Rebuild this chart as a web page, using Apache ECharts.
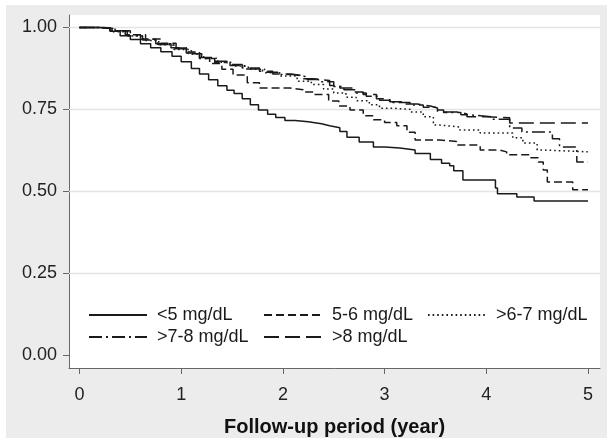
<!DOCTYPE html>
<html>
<head>
<meta charset="utf-8">
<script src="https://cdn.jsdelivr.net/npm/echarts@6/dist/echarts.min.js"></script>
<style>
  html, body { margin: 0; padding: 0; background: #ffffff; }
  #bg { position: absolute; left: 6px; top: 5px; width: 601px; height: 433px; background: #ececec; }
  #chart { position: absolute; left: 0; top: 0; width: 607px; height: 438px; }
</style>
</head>
<body>
<div id="bg"></div>
<div id="chart"></div>
<script>
// ---- Data ----
const seriesNames = ['<5 mg/dL', '5-6 mg/dL', '>6-7 mg/dL', '>7-8 mg/dL', '>8 mg/dL'];

const tLt5 = [0, 0.2, 0.3, 0.4, 0.5, 0.6, 0.7, 0.8, 0.91, 1.0, 1.1, 1.18, 1.27, 1.36, 1.45, 1.52, 1.6, 1.68, 1.76, 1.85, 1.93, 2.02, 2.12, 2.25, 2.38, 2.46, 2.56, 2.63, 2.75, 2.89, 3.0, 3.15, 3.3, 3.45, 3.56, 3.64, 3.68, 3.77, 4.09, 4.11, 4.3, 4.47, 5.0];
const sLt5 = [1, 0.997, 0.988, 0.975, 0.963, 0.95, 0.938, 0.926, 0.912, 0.895, 0.875, 0.858, 0.84, 0.822, 0.808, 0.798, 0.782, 0.764, 0.748, 0.735, 0.725, 0.716, 0.712, 0.706, 0.7, 0.694, 0.682, 0.665, 0.65, 0.635, 0.632, 0.626, 0.615, 0.597, 0.585, 0.578, 0.562, 0.534, 0.51, 0.492, 0.482, 0.47, 0.47];

const t5to6 = [0, 0.22, 0.35, 0.5, 0.65, 0.8, 0.95, 1.05, 1.18, 1.28, 1.4, 1.51, 1.65, 1.77, 2.07, 2.2, 2.31, 2.45, 2.55, 2.66, 2.79, 2.89, 3.0, 3.12, 3.22, 3.3, 3.54, 3.71, 3.94, 4.13, 4.2, 4.43, 4.51, 4.56, 4.6, 4.85, 5.0];
const s5to6 = [1, 0.998, 0.99, 0.978, 0.965, 0.952, 0.937, 0.925, 0.905, 0.89, 0.872, 0.855, 0.831, 0.815, 0.81, 0.803, 0.795, 0.775, 0.76, 0.748, 0.73, 0.718, 0.71, 0.7, 0.68, 0.656, 0.652, 0.641, 0.626, 0.62, 0.611, 0.602, 0.589, 0.565, 0.528, 0.504, 0.504];

const t6to7 = [0, 0.2, 0.33, 0.48, 0.63, 0.78, 0.93, 1.1, 1.22, 1.36, 1.5, 1.66, 1.82, 1.97, 2.14, 2.28, 2.4, 2.5, 2.62, 2.72, 2.85, 2.95, 3.1, 3.25, 3.38, 3.48, 3.54, 3.74, 3.94, 4.26, 4.36, 4.5, 4.53, 5.0];
const s6to7 = [1, 0.997, 0.987, 0.974, 0.96, 0.947, 0.933, 0.918, 0.906, 0.894, 0.882, 0.872, 0.862, 0.852, 0.836, 0.826, 0.812, 0.8, 0.787, 0.776, 0.764, 0.753, 0.75, 0.742, 0.727, 0.702, 0.696, 0.687, 0.678, 0.663, 0.647, 0.626, 0.62, 0.62];

const t7to8 = [0, 0.22, 0.32, 0.47, 0.62, 0.77, 0.92, 1.07, 1.2, 1.33, 1.48, 1.62, 1.8, 1.95, 2.1, 2.22, 2.35, 2.5, 2.6, 2.72, 2.82, 2.95, 3.08, 3.25, 3.38, 3.5, 3.58, 3.75, 3.85, 4.05, 4.23, 4.35, 4.65, 4.72, 4.89, 5.0];
const s7to8 = [1, 0.996, 0.988, 0.975, 0.962, 0.948, 0.935, 0.92, 0.905, 0.893, 0.884, 0.873, 0.863, 0.856, 0.85, 0.841, 0.834, 0.82, 0.81, 0.8, 0.79, 0.778, 0.771, 0.763, 0.756, 0.748, 0.74, 0.733, 0.727, 0.72, 0.693, 0.681, 0.66, 0.635, 0.589, 0.589];

const tGt8 = [0, 0.2, 0.3, 0.45, 0.6, 0.75, 0.9, 1.05, 1.18, 1.31, 1.45, 1.6, 1.77, 1.9, 2.07, 2.2, 2.3, 2.46, 2.56, 2.68, 2.79, 2.92, 3.05, 3.2, 3.32, 3.45, 3.52, 3.71, 3.81, 4.01, 4.23, 5.0];
const sGt8 = [1, 0.998, 0.99, 0.978, 0.964, 0.95, 0.938, 0.922, 0.908, 0.897, 0.887, 0.876, 0.866, 0.858, 0.853, 0.843, 0.838, 0.823, 0.815, 0.803, 0.795, 0.782, 0.773, 0.766, 0.76, 0.754, 0.742, 0.736, 0.727, 0.724, 0.708, 0.708];

const xTicks = [0, 1, 2, 3, 4, 5];
const yTicks = [0, 0.25, 0.5, 0.75, 1];
const yGrid = [0.25, 0.5, 0.75, 1];
const xTitle = 'Follow-up period (year)';

// ---- Build ----
const times = [tLt5, t5to6, t6to7, t7to8, tGt8];
const survs = [sLt5, s5to6, s6to7, s7to8, sGt8];
const dashes = ['solid', [8, 4], [1.6, 3], [13, 4, 2, 4], [15, 6]];
const FONT = 'Liberation Sans, Arial, Helvetica, sans-serif';
const INK = '#1a1a1a';

const series = [{
  name: 'grid', type: 'line', data: [], z: 1, silent: true,
  markLine: {
    z: 1, silent: true, symbol: ['none', 'none'], label: { show: false },
    lineStyle: { color: '#e4e4e4', width: 1.4, type: 'solid' },
    data: yGrid.map(v => ({ yAxis: v }))
  }
}];
seriesNames.forEach((n, i) => {
  series.push({
    name: n, type: 'line', step: 'end', showSymbol: false, symbol: 'none', z: 3,
    lineStyle: { color: INK, width: 1.5, type: dashes[i] },
    itemStyle: { color: INK },
    data: times[i].map((t, k) => [t, survs[i][k]])
  });
});

const legendBase = {
  orient: 'vertical', top: 304, itemWidth: 58, itemHeight: 12, itemGap: 0, padding: 0,
  itemStyle: { color: 'rgba(0,0,0,0)', borderColor: 'rgba(0,0,0,0)', borderWidth: 0 },
  textStyle: { fontFamily: FONT, fontSize: 18, color: INK, lineHeight: 22, padding: [0, 0, 0, 5] },
  selectedMode: false
};

const chart = echarts.init(document.getElementById('chart'), null, { renderer: 'canvas' });
chart.setOption({
  backgroundColor: 'transparent',
  animation: false,
  grid: { left: 69, right: 7, top: 15, bottom: 70, show: true, backgroundColor: '#ffffff', borderWidth: 0,
    containLabel: false, outerBoundsMode: 'none' },
  legend: [
    Object.assign({}, legendBase, { left: 88, data: [seriesNames[0], seriesNames[3]] }),
    Object.assign({}, legendBase, { left: 263, data: [seriesNames[1], seriesNames[4]] }),
    Object.assign({}, legendBase, { left: 427, data: [seriesNames[2]] })
  ],
  xAxis: {
    type: 'value', min: -0.103, max: 5.118,
    name: xTitle, nameLocation: 'middle', nameGap: 49,
    nameTextStyle: { fontFamily: FONT, fontSize: 20, fontWeight: 'bold', color: '#111' },
    axisLine: { show: true, onZero: false, lineStyle: { color: '#666', width: 1 } },
    axisTick: { show: true, length: 6, customValues: xTicks, lineStyle: { color: '#666' } },
    axisLabel: { customValues: xTicks, fontFamily: FONT, fontSize: 18, color: '#222', margin: 18 },
    splitLine: { show: false }
  },
  yAxis: {
    type: 'value', min: -0.04, max: 1.038,
    axisLine: { show: true, onZero: false, lineStyle: { color: '#666', width: 1 } },
    axisTick: { show: true, length: 6, customValues: yTicks, lineStyle: { color: '#666' } },
    axisLabel: { customValues: yTicks, fontFamily: FONT, fontSize: 18, color: '#222', margin: 12,
      formatter: v => Number(v).toFixed(2) },
    splitLine: { show: false }
  },
  series: series
});
</script>
</body>
</html>
